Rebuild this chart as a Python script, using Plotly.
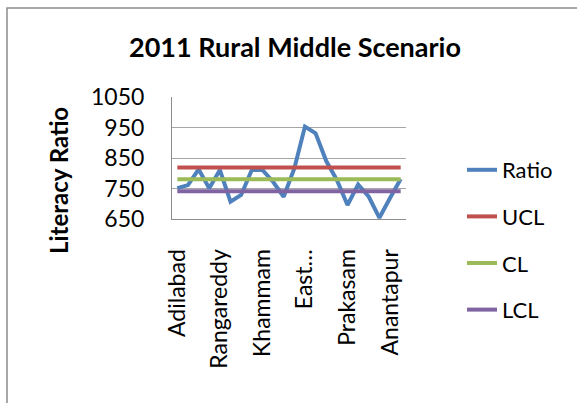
import plotly.graph_objects as go

districts = ["Adilabad", "Nizamabad", "Karimnagar", "Medak", "Rangareddy", "Mahbubnagar",
             "Nalgonda", "Warangal", "Khammam", "Srikakulam", "Vizianagaram", "Visakhapatnam",
             "East Godavari", "West Godavari", "Krishna", "Guntur", "Prakasam", "Nellore",
             "Kadapa", "Kurnool", "Anantapur", "Chittoor"]
ratio = [751, 761, 813, 751, 811, 707, 729, 811, 811, 772, 723, 816,
         953, 931, 840, 778, 696, 763, 723, 654, 719, 781]
ucl_value = 819
cl_value = 780
lcl_value = 741
ucl = [ucl_value] * len(districts)
cl = [cl_value] * len(districts)
lcl = [lcl_value] * len(districts)

tick_cats = ["Adilabad", "Rangareddy", "Khammam", "East Godavari", "Prakasam", "Anantapur"]
tick_text = ["Adilabad", "Rangareddy", "Khammam", "East…", "Prakasam", "Anantapur"]
y_ticks = [650, 750, 850, 950, 1050]

FONT = "Lato, 'Open Sans', sans-serif"

fig = go.Figure()
series = [("Ratio", ratio, "#4F81BD"), ("UCL", ucl, "#C0504D"),
          ("CL", cl, "#9BBB59"), ("LCL", lcl, "#8064A2")]
for name, vals, color in series:
    fig.add_trace(go.Scatter(x=districts, y=vals, mode="lines", name=name,
                             legendgroup=name,
                             line=dict(color=color, width=4)))

# plot area in pixels: left 172, right 406, top 97, bottom 219
L, R, T, B = 172, 406, 97, 219
W, H = 577, 403
pw, ph = R - L, B - T

def px(x):
    return (x - L) / pw

def py(y):
    return (B - y) / ph

fig.update_layout(
    width=W, height=H,
    margin=dict(l=L, r=W - R, t=T, b=H - B, autoexpand=False),
    paper_bgcolor="white", plot_bgcolor="white",
    font=dict(family=FONT, color="black"),
    title=dict(text="<b>2011 Rural Middle Scenario</b>", x=295 / W, xanchor="center",
               y=1 - 48 / H, yanchor="middle", font=dict(size=27, family=FONT)),
    showlegend=True,
    legend=dict(x=px(462), xanchor="left", y=py(149), yanchor="top",
                font=dict(size=22, family=FONT), traceorder="grouped",
                tracegroupgap=15, bgcolor="rgba(0,0,0,0)", maxheight=400),
    xaxis=dict(type="category", categoryorder="array", categoryarray=districts,
               tickmode="array", tickvals=tick_cats, ticktext=tick_text,
               tickangle=-90, tickfont=dict(size=23, family=FONT),
               showgrid=False, showline=True, linecolor="#8c8c8c", linewidth=1,
               ticks="", ticklabelstandoff=20, range=[-0.5, len(districts) - 0.5],
               automargin=False, fixedrange=True),
    yaxis=dict(range=[650, 1050], tickmode="array", tickvals=y_ticks,
               tickfont=dict(size=23, family=FONT), showgrid=True,
               gridcolor="#a6a6a6", gridwidth=1, showline=True, linecolor="#8c8c8c",
               linewidth=1, ticks="", ticklabelstandoff=22, zeroline=False,
               automargin=False, fixedrange=True),
    annotations=[dict(text="<b>Literacy Ratio</b>", textangle=-90, showarrow=False,
                      xref="paper", yref="paper", x=px(58), y=py(181),
                      xanchor="center", yanchor="middle",
                      font=dict(size=24, family=FONT))],
    shapes=[dict(type="path", xref="paper", yref="paper",
                 path=f"M {px(7)},{py(403)} L {px(7)},{py(8)} L {px(577)},{py(8)}",
                 line=dict(color="#8c8c8c", width=1.5))],
)

fig.write_html("out.html", post_script="document.body.style.margin='0';",
               config={"displayModeBar": False})
